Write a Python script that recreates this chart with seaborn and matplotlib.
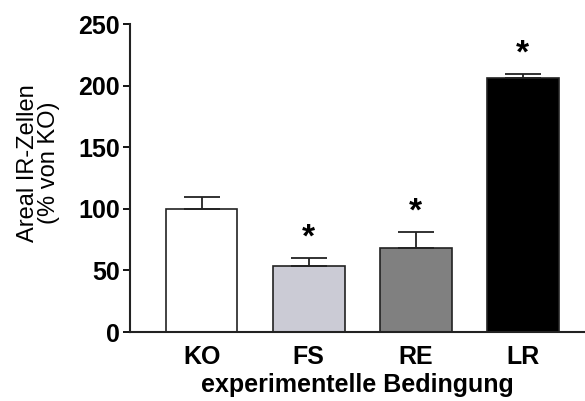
import numpy as np
import pandas as pd
import seaborn as sns
import matplotlib
matplotlib.use("Agg")
import matplotlib.pyplot as plt

# values
conditions = ["KO", "FS", "RE", "LR"]
means = [100, 54, 68, 206]
sem = [10, 6, 13, 3.5]
significant = [False, True, True, True]
bar_colors = ["#ffffff", "#c9c9d7", "#808080", "#000000"]
yticks = [0, 50, 100, 150, 200, 250]

df = pd.DataFrame({"Bedingung": conditions, "Wert": means})

sns.set_style("ticks")
plt.rcParams["font.family"] = ["Liberation Sans", "DejaVu Sans"]
plt.rcParams["text.color"] = "black"
plt.rcParams["axes.labelcolor"] = "black"
plt.rcParams["xtick.color"] = "black"
plt.rcParams["ytick.color"] = "black"

fig = plt.figure(figsize=(5.85, 4.01), dpi=100)
ax = fig.add_axes([0.222, 0.172, 0.778, 0.768])

sns.barplot(data=df, x="Bedingung", y="Wert", hue="Bedingung", palette=bar_colors,
            order=conditions, hue_order=conditions, width=0.67, errorbar=None,
            edgecolor="#222222", linewidth=1.2, legend=False, ax=ax)

# upward-only error bars (SEM)
xpos = np.arange(len(conditions))
ax.errorbar(xpos, means, yerr=[np.zeros(len(sem)), sem], fmt="none",
            ecolor="#222222", elinewidth=1.3, capsize=13, capthick=1.3, zorder=1)

# significance stars
for x, m, e, s in zip(xpos, means, sem, significant):
    if s:
        ax.text(x, m + e + 3.5, "*", ha="center", va="bottom",
                fontsize=24, fontweight="bold", color="black")

ax.set_ylim(0, 250)
ax.set_xlim(-0.67, 3.58)
ax.set_yticks(yticks)
ax.tick_params(axis="y", length=5, width=1.3, labelsize=18, pad=2)
ax.tick_params(axis="x", length=0, labelsize=18, pad=9)
for lab in ax.get_xticklabels() + ax.get_yticklabels():
    lab.set_fontweight("bold")

ax.set_ylabel("Areal IR-Zellen\n(% von KO)", fontsize=17, linespacing=0.95)
ax.yaxis.set_label_coords(-0.153, 0.55)
ax.set_xlabel("experimentelle Bedingung", fontsize=18, fontweight="bold", labelpad=3)

sns.despine(ax=ax)
for side in ["left", "bottom"]:
    ax.spines[side].set_linewidth(1.5)
    ax.spines[side].set_color("#222222")

fig.savefig("out.png", dpi=100)
